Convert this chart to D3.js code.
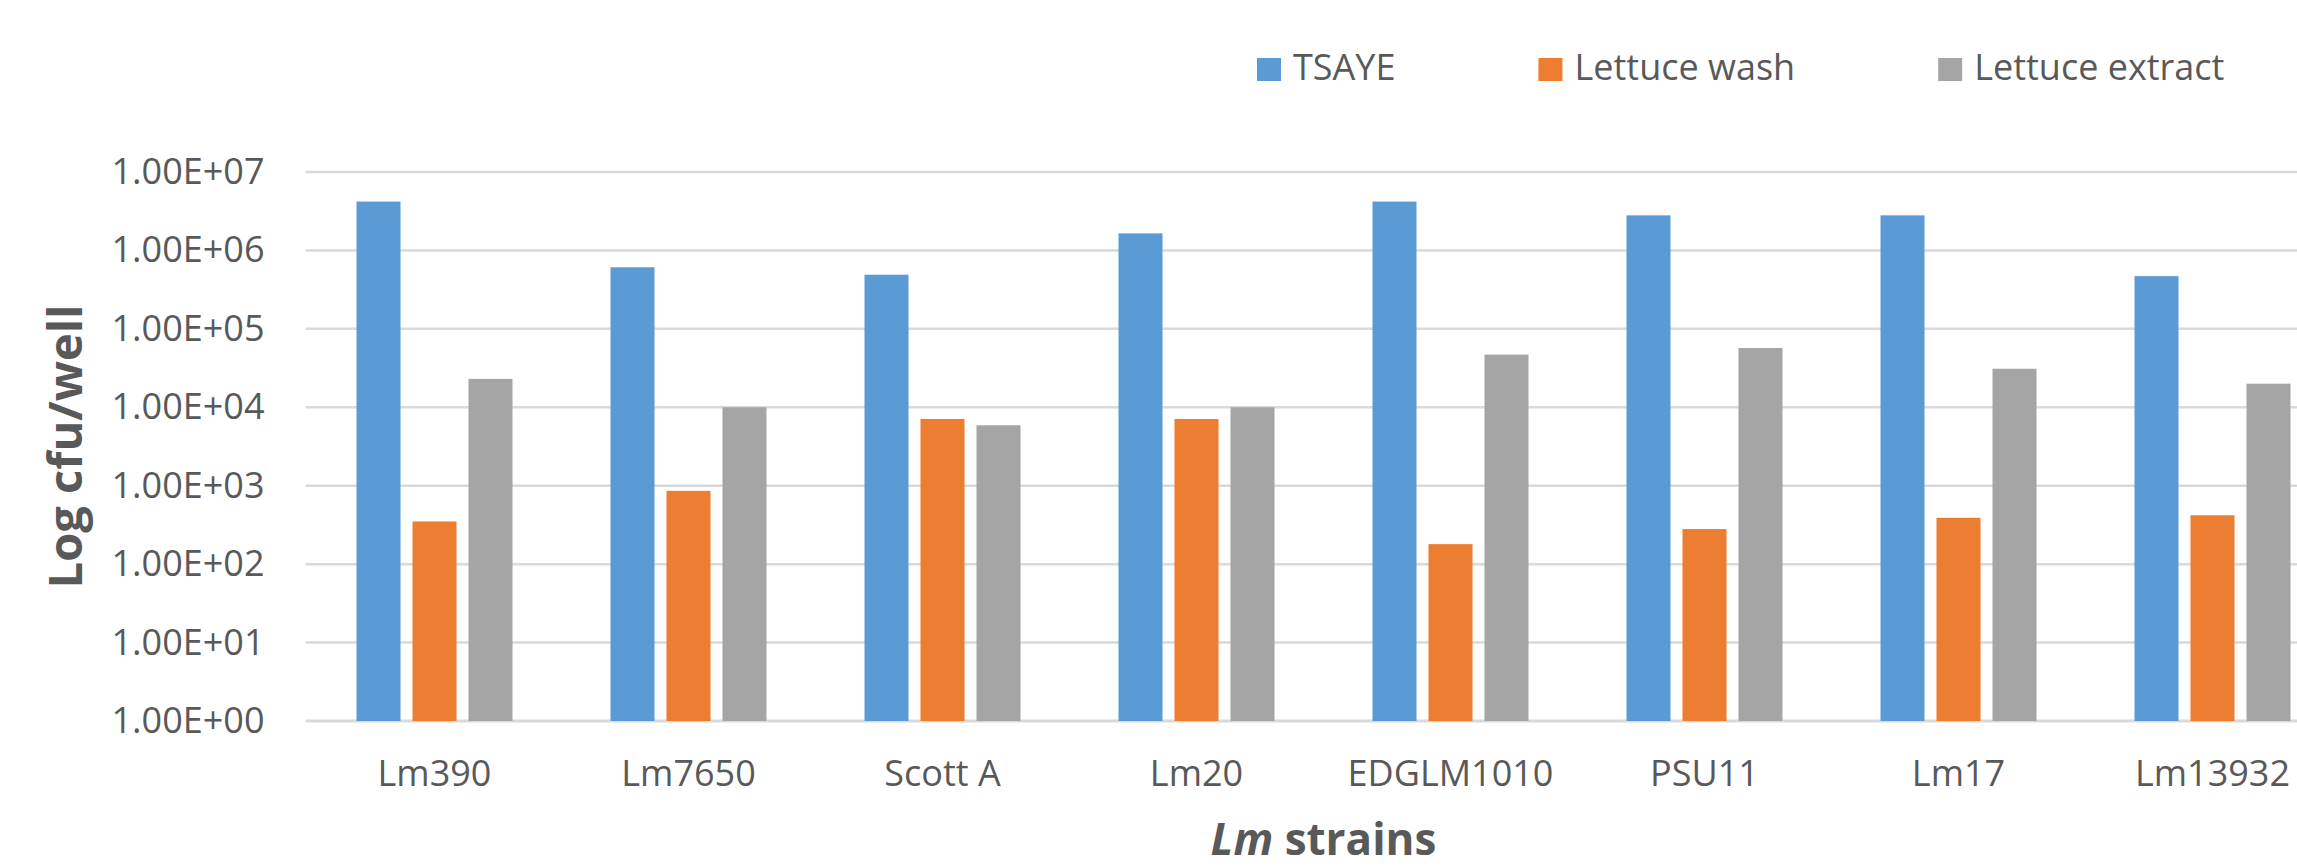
<!DOCTYPE html>
<html>
<head>
<meta charset="utf-8">
<script src="https://cdn.jsdelivr.net/npm/d3@7"></script>
<style>
  body { margin: 0; background: #fff; }
  text { font-family: "Open Sans", "Noto Sans", sans-serif; fill: #595959; }
</style>
</head>
<body>
<div id="chart-area"></div>
<script>
// data
const categories = ["Lm390", "Lm7650", "Scott A", "Lm20", "EDGLM1010", "PSU11", "Lm17", "Lm13932"];
const seriesNames = ["TSAYE", "Lettuce wash", "Lettuce extract"];
const tsaye = [4.2e6, 6.1e5, 4.9e5, 1.65e6, 4.2e6, 2.8e6, 2.8e6, 4.7e5];
const lettuceWash = [3.5e2, 8.6e2, 7.1e3, 7.1e3, 1.8e2, 2.8e2, 3.9e2, 4.2e2];
const lettuceExtract = [2.3e4, 1.0e4, 5.9e3, 1.0e4, 4.7e4, 5.7e4, 3.1e4, 2.0e4];
const yTicks = [1, 10, 100, 1e3, 1e4, 1e5, 1e6, 1e7];
const yTickLabels = ["1.00E+00", "1.00E+01", "1.00E+02", "1.00E+03", "1.00E+04", "1.00E+05", "1.00E+06", "1.00E+07"];

const colors = ["#5b9bd5", "#ed7d31", "#a5a5a5"];
const seriesValues = [tsaye, lettuceWash, lettuceExtract];

const W = 2297, H = 867;
const margin = { left: 307.5, top: 172, bottom: 146 };
// the original plot runs past the right edge of the picture
const width = 2032;
const height = H - margin.top - margin.bottom;

const svg = d3.select("#chart-area").append("svg")
  .attr("width", W)
  .attr("height", H)
  .style("display", "block");

svg.append("rect").attr("width", W).attr("height", H).attr("fill", "#fff");

const g = svg.append("g")
  .attr("transform", `translate(${margin.left},${margin.top})`);

const y = d3.scaleLog()
  .domain([1, 1e7])
  .range([height, 0]);

const x0 = d3.scaleBand()
  .domain(categories)
  .range([0, width]);

const x1 = d3.scaleBand()
  .domain(seriesNames)
  .range([0, x0.bandwidth()])
  .paddingInner(0.214)
  .paddingOuter(0.875);

// gridlines
g.append("g")
  .selectAll("line")
  .data(yTicks)
  .enter().append("line")
  .attr("x1", -2)
  .attr("x2", width)
  .attr("y1", d => y(d))
  .attr("y2", d => y(d))
  .attr("stroke", "#d9d9d9")
  .attr("stroke-width", d => d === 1 ? 3 : 2.5);

// y axis labels
const axisLeft = d3.axisLeft(y)
  .tickValues(yTicks)
  .tickSize(0)
  .tickPadding(43)
  .tickFormat((d, i) => yTickLabels[i]);

g.append("g")
  .attr("class", "y-axis")
  .call(axisLeft)
  .call(a => a.select(".domain").remove())
  .selectAll("text")
  .attr("font-size", "36px")
  .attr("fill", "#595959");

// x axis labels
const axisBottom = d3.axisBottom(x0)
  .tickSize(0)
  .tickPadding(39);

g.append("g")
  .attr("class", "x-axis")
  .attr("transform", `translate(0, ${height})`)
  .call(axisBottom)
  .call(a => a.select(".domain").remove())
  .selectAll("text")
  .attr("font-size", "36px")
  .attr("fill", "#595959");

// bars
const groups = g.selectAll(".group")
  .data(categories)
  .enter().append("g")
  .attr("class", "group")
  .attr("transform", d => `translate(${x0(d)},0)`);

groups.selectAll("rect")
  .data((c, i) => seriesNames.map((s, j) => ({ series: s, value: seriesValues[j][i], color: colors[j] })))
  .enter().append("rect")
  .attr("x", d => x1(d.series))
  .attr("y", d => y(d.value))
  .attr("width", x1.bandwidth())
  .attr("height", d => height - y(d.value))
  .attr("fill", d => d.color);

// axis titles
svg.append("text")
  .attr("transform", `translate(82, ${margin.top + height / 2}) rotate(-90)`)
  .attr("text-anchor", "middle")
  .attr("font-size", "47px")
  .attr("font-weight", "bold")
  .text("Log cfu/well");

const xTitle = svg.append("text")
  .attr("x", margin.left + width / 2)
  .attr("y", 855)
  .attr("text-anchor", "middle")
  .attr("font-size", "44px")
  .attr("font-weight", "bold");
xTitle.append("tspan").attr("font-style", "italic").text("Lm");
xTitle.append("tspan").text(" strains");

// legend
const legend = svg.append("g").attr("class", "legend");
let lx = 1257;
seriesNames.forEach((name, i) => {
  const item = legend.append("g").attr("transform", `translate(${lx}, 0)`);
  item.append("rect")
    .attr("x", 0)
    .attr("y", 58)
    .attr("width", 24)
    .attr("height", 23)
    .attr("fill", colors[i]);
  const t = item.append("text")
    .attr("x", 36)
    .attr("y", 80)
    .attr("font-size", "36px")
    .text(name);
  lx += 36 + t.node().getComputedTextLength() + 143;
});
</script>
</body>
</html>
